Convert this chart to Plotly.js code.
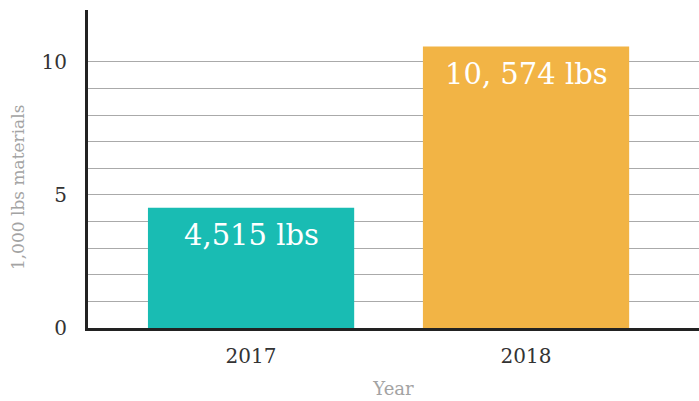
<!DOCTYPE html>
<html><head><meta charset="utf-8">
<script src="https://cdn.plot.ly/plotly-3.0.1.min.js"></script>
<style>html,body{margin:0;padding:0;background:#fff}</style>
</head><body><div id="chart" style="width:699px;height:401px"></div>
<script>
const years = ['2017', '2018'];
const values = [4.515, 10.574];
const barLabels = ['4,515 lbs', '10, 574 lbs'];
const barColors = ['#19bcb3', '#f2b445'];
const yTickVals = [0,1,2,3,4,5,6,7,8,9,10];
const yTickText = ['0','','','','','5','','','','','10'];
const FONT = 'DejaVu Serif, serif';

const annotations = years.map((yr, i) => ({
  x: i, y: values[i], xref: 'x', yref: 'y',
  text: barLabels[i], showarrow: false,
  xanchor: 'center', yanchor: 'top', yshift: -8,
  font: {family: FONT, size: 29, color: '#ffffff'}
}));
annotations.push({
  xref: 'paper', yref: 'paper', x: -0.1146, y: 0.443,
  xanchor: 'center', yanchor: 'middle', textangle: -90,
  text: '1,000 lbs materials', showarrow: false,
  font: {family: FONT, size: 17, color: '#a3a3a3'}
});

Plotly.newPlot('chart', [{
  type: 'bar', x: years, y: values,
  marker: {color: barColors}, width: 0.75, hoverinfo: 'none'
}], {
  width: 699, height: 401,
  margin: {l: 88, r: 0, t: 10, b: 73},
  paper_bgcolor: '#fff', plot_bgcolor: '#fff',
  showlegend: false,
  font: {family: FONT, color: '#333'},
  annotations: annotations,
  xaxis: {
    type: 'category', range: [-0.593, 1.629],
    showline: true, linecolor: '#222', linewidth: 3,
    showgrid: false, zeroline: false, ticks: '', ticklabelstandoff: 8,
    tickfont: {size: 20, color: '#333'},
    title: {text: 'Year', font: {size: 18, color: '#a3a3a3'}, standoff: 16}
  },
  yaxis: {
    range: [0, 11.95], tickvals: yTickVals, ticktext: yTickText,
    showline: true, linecolor: '#222', linewidth: 3,
    showgrid: true, gridcolor: '#aaa', gridwidth: 1, zeroline: false,
    ticks: '', ticklabelstandoff: 14,
    tickfont: {size: 20, color: '#333'}
  }
}, {staticPlot: true});
</script></body></html>
